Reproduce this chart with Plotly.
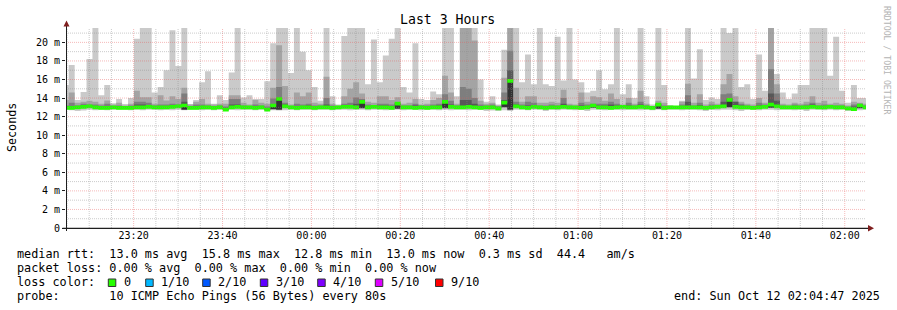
import plotly.graph_objects as go
from datetime import datetime, timedelta

# ---------------- data ----------------
TITLE = "Last 3 Hours"
Y_LABEL = "Seconds"
WATERMARK = "RRDTOOL / TOBI OETIKER"
END_TIME = datetime(2025, 10, 12, 2, 4, 47)
RANGE_START = END_TIME - timedelta(hours=3)
FIRST_STEP = datetime(2025, 10, 11, 23, 4, 4)
STEP_S = 80

Y_TICKS = [0, 2, 4, 6, 8, 10, 12, 14, 16, 18, 20]
Y_TICK_TEXT = ["0", "2 m", "4 m", "6 m", "8 m", "10 m", "12 m", "14 m", "16 m", "18 m", "20 m"]

# ping 10 of 10 (max rtt, ms)
P10 = [15.4, 17.55, 13.8, 14.65, 18.2, 22.0, 14.3, 15.4, 13.45, 13.9,
       13.35, 14.0, 20.4, 22.0, 22.0, 14.6, 15.2, 17.0, 21.3, 17.45,
       22.0, 13.35, 13.8, 15.7, 16.9, 13.4, 14.3, 13.8, 16.75, 22.0,
       14.05, 14.3, 13.9, 13.9, 15.8, 19.9, 22.0, 22.0, 16.7, 22.0,
       19.0, 17.0, 15.2, 13.7, 22.0, 14.2, 13.3, 20.7, 22.0, 22.0,
       22.0, 15.5, 20.3, 15.7, 18.6, 20.4, 22.0, 15.2, 14.6, 19.9,
       13.9, 13.8, 14.7, 14.4, 22.0, 22.0, 14.2, 22.0, 22.0, 22.0,
       16.0, 13.6, 14.2, 13.3, 19.2, 22.0, 22.0, 15.7, 18.7, 15.5,
       22.0, 15.5, 15.3, 20.6, 15.9, 22.0, 16.0, 15.7, 14.6, 14.8,
       17.0, 14.95, 15.5, 22.0, 14.4, 15.5, 14.0, 22.0, 14.2, 13.3,
       22.0, 15.4, 13.25, 13.1, 13.7, 22.0, 16.1, 19.25, 13.8, 14.05,
       13.9, 22.0, 21.0, 22.0, 15.2, 15.5, 13.9, 18.7, 14.8, 22.0,
       16.6, 14.6, 13.9, 14.5, 15.4, 15.4, 22.0, 22.0, 22.0, 16.4,
       20.6, 14.8, 13.5, 15.4, 14.0, 14.0]

P9 = [13.8, 14.6, 13.5, 13.6, 13.7, 13.6, 13.4, 13.75, 13.3, 13.5,
      13.2, 13.4, 14.8, 14.1, 14.1, 13.4, 14.3, 13.75, 14.2, 13.9,
      15.1, 13.3, 13.6, 13.9, 13.4, 13.3, 13.4, 13.4, 14.3, 14.3,
      13.5, 13.3, 13.8, 13.5, 13.4, 15.1, 19.7, 15.3, 13.3, 14.6,
      14.2, 14.6, 13.5, 13.4, 16.3, 13.4, 13.2, 14.2, 15.0, 15.7,
      14.5, 13.6, 13.5, 14.2, 14.2, 13.8, 14.1, 13.4, 13.5, 13.9,
      13.3, 13.4, 13.8, 14.0, 16.4, 14.6, 13.4, 22.0, 22.0, 20.2,
      13.7, 13.4, 13.5, 13.2, 16.2, 22.0, 15.1, 13.6, 14.2, 14.2,
      13.5, 13.5, 13.6, 13.5, 14.9, 13.4, 13.3, 14.6, 13.6, 14.2,
      14.1, 13.7, 14.5, 13.9, 13.3, 14.0, 13.4, 14.8, 13.4, 13.1,
      13.7, 13.5, 13.1, 13.1, 13.6, 15.55, 13.5, 14.4, 13.3, 13.6,
      13.4, 15.5, 16.6, 14.2, 13.6, 13.4, 13.3, 14.0, 13.5, 22.0,
      15.5, 13.4, 13.3, 13.5, 13.4, 13.6, 14.2, 13.5, 13.7, 13.4,
      13.5, 13.4, 13.2, 13.6, 13.5, 13.4]

P8 = [13.2, 13.5, 13.2, 13.4, 13.3, 13.3, 13.2, 13.4, 13.1, 13.2,
      13.1, 13.2, 13.6, 13.6, 13.5, 13.2, 13.3, 13.3, 13.4, 13.3,
      14.5, 13.1, 13.3, 13.3, 13.2, 13.1, 13.2, 13.1, 13.9, 13.9,
      13.2, 13.1, 13.3, 13.2, 13.1, 13.95, 15.2, 13.5, 13.1, 13.4,
      13.3, 13.4, 13.2, 13.2, 14.0, 13.2, 13.1, 13.4, 13.5, 14.05,
      13.9, 13.3, 13.2, 13.4, 13.4, 13.3, 13.5, 13.2, 13.2, 13.4,
      13.2, 13.2, 13.3, 13.4, 14.4, 13.7, 13.2, 15.2, 15.0, 14.0,
      13.3, 13.2, 13.3, 13.1, 14.6, 19.1, 13.6, 13.3, 13.6, 13.5,
      13.2, 13.2, 13.3, 13.2, 14.0, 13.2, 13.1, 13.5, 13.3, 13.4,
      13.4, 13.4, 13.6, 13.4, 13.1, 13.5, 13.2, 13.6, 13.2, 13.05,
      13.4, 13.2, 13.05, 13.05, 13.3, 14.3, 13.2, 13.5, 13.1, 13.3,
      13.2, 14.4, 14.5, 13.6, 13.4, 13.2, 13.1, 13.5, 13.3, 17.1,
      14.5, 13.2, 13.15, 13.3, 13.2, 13.3, 13.5, 13.2, 13.3, 13.2,
      13.2, 13.2, 13.05, 13.3, 13.4, 13.2]

P7 = [13.05, 13.15, 13.1, 13.2, 13.2, 13.1, 13.05, 13.15, 13.05, 13.05,
      13.0, 13.05, 13.3, 13.3, 13.25, 13.1, 13.15, 13.15, 13.2, 13.2,
      13.6, 13.0, 13.1, 13.1, 13.1, 13.0, 13.1, 12.95, 13.3, 13.3,
      13.1, 13.05, 13.1, 13.1, 12.9, 13.3, 14.0, 13.3, 13.05, 13.15,
      13.15, 13.2, 13.1, 13.05, 13.3, 13.1, 13.05, 13.2, 13.2, 13.4,
      13.7, 13.15, 13.15, 13.2, 13.2, 13.1, 13.45, 13.1, 13.1, 13.2,
      13.1, 13.05, 13.15, 13.2, 13.8, 13.3, 13.1, 13.8, 13.8, 13.4,
      13.15, 13.1, 13.15, 13.0, 13.8, 17.0, 13.3, 13.15, 13.2, 13.2,
      13.1, 13.05, 13.15, 13.1, 13.4, 13.1, 13.05, 13.2, 13.15, 13.25,
      13.2, 13.2, 13.3, 13.2, 13.1, 13.2, 13.1, 13.3, 13.1, 13.0,
      13.35, 13.05, 13.05, 13.05, 13.15, 13.6, 13.1, 13.25, 13.05, 13.15,
      13.15, 13.6, 14.0, 13.6, 13.2, 13.1, 13.05, 13.2, 13.2, 14.5,
      13.7, 13.1, 13.1, 13.15, 13.1, 13.15, 13.3, 13.1, 13.15, 13.15,
      13.1, 13.1, 13.0, 13.1, 13.3, 13.1]

MEDIAN = [12.95, 12.95, 13.0, 13.05, 13.1, 13.0, 12.95, 12.95, 13.0, 12.95,
          12.95, 12.95, 13.0, 13.0, 13.05, 13.0, 13.0, 13.0, 13.05, 13.1,
          13.2, 12.95, 12.95, 13.0, 13.0, 12.95, 13.0, 12.75, 13.0, 13.05,
          13.0, 13.0, 12.95, 13.0, 12.75, 13.2, 13.9, 13.1, 13.0, 12.95,
          13.0, 13.0, 12.95, 13.0, 13.0, 12.95, 13.0, 13.05, 13.05, 13.0,
          13.6, 13.0, 13.05, 13.0, 13.0, 12.95, 13.4, 13.0, 13.0, 12.95,
          13.0, 12.95, 13.0, 13.0, 13.6, 13.05, 13.0, 13.0, 13.05, 13.0,
          12.95, 13.0, 13.0, 12.9, 13.5, 15.85, 13.1, 13.0, 12.95, 13.05,
          13.0, 12.95, 13.0, 13.0, 13.05, 13.0, 13.0, 12.95, 13.0, 13.2,
          13.0, 13.0, 12.95, 13.0, 13.05, 13.0, 13.0, 13.05, 13.0, 12.95,
          13.3, 12.95, 13.0, 13.0, 13.0, 13.0, 13.0, 13.0, 12.95, 13.0,
          13.05, 13.1, 13.8, 13.05, 13.0, 13.0, 12.95, 13.0, 13.05, 13.3,
          13.1, 13.0, 13.0, 13.0, 13.0, 13.0, 13.05, 13.0, 13.0, 13.05,
          13.0, 13.0, 12.9, 12.8, 13.2, 13.0]

P1 = [12.75, 12.7, 12.6, 12.65, 12.75, 12.7, 12.75, 12.7, 12.75, 12.75,
      12.75, 12.7, 12.75, 12.7, 12.75, 12.75, 12.7, 12.75, 12.7, 12.75,
      12.7, 12.75, 12.75, 12.7, 12.75, 12.7, 12.75, 12.6, 12.75, 12.7,
      12.75, 12.75, 12.7, 12.75, 12.6, 12.7, 12.65, 12.7, 12.75, 12.7,
      12.75, 12.75, 12.7, 12.75, 12.75, 12.7, 12.75, 12.75, 12.7, 12.75,
      12.75, 12.7, 12.75, 12.75, 12.7, 12.75, 12.75, 12.7, 12.75, 12.75,
      12.7, 12.75, 12.75, 12.7, 12.75, 12.7, 12.75, 12.75, 12.7, 12.75,
      12.75, 12.6, 12.65, 12.6, 12.7, 12.6, 12.75, 12.75, 12.7, 12.75,
      12.75, 12.6, 12.75, 12.7, 12.75, 12.75, 12.7, 12.75, 12.6, 12.75,
      12.75, 12.7, 12.75, 12.75, 12.7, 12.75, 12.75, 12.7, 12.75, 12.7,
      12.75, 12.7, 12.75, 12.75, 12.7, 12.75, 12.75, 12.7, 12.6, 12.75,
      12.7, 12.75, 12.75, 12.7, 12.6, 12.75, 12.75, 12.7, 12.75, 12.75,
      12.7, 12.75, 12.75, 12.7, 12.75, 12.6, 12.75, 12.75, 12.7, 12.75,
      12.7, 12.75, 12.6, 12.6, 12.7, 12.75]

# columns where the innermost (ping 5..6) smoke band is visible: index -> (p5, p6)
INNER_BAND = {20: (12.75, 13.2), 35: (12.8, 13.2), 36: (12.75, 14.0), 50: (12.9, 13.6),
              56: (12.85, 13.4), 64: (12.9, 13.6), 74: (13.0, 13.5), 75: (12.75, 15.85),
              89: (12.95, 13.2), 100: (12.85, 13.3), 112: (13.0, 13.8), 119: (12.95, 13.3),
              134: (12.9, 13.2)}

LEGEND_LINE1 = "median rtt:  13.0 ms avg  15.8 ms max  12.8 ms min  13.0 ms now  0.3 ms sd  44.4   am/s"
LEGEND_LINE2 = "packet loss: 0.00 % avg  0.00 % max  0.00 % min  0.00 % now"
LOSS_LABEL = "loss color:"
LOSS_NAMES = ["0", "1/10", "2/10", "3/10", "4/10", "5/10", "9/10"]
LOSS_COLORS = ["#26ff00", "#00b8ff", "#0059ff", "#5e00ff", "#7e00ff", "#dd00ff", "#ff0000"]
PROBE_LINE = "probe:       10 ICMP Echo Pings (56 Bytes) every 80s"
END_LINE = "end: Sun Oct 12 02:04:47 2025"

# ---------------- styling ----------------
W, H = 897, 310
PL, PR, PT, PB = 66, 866, 28, 228
Y_MAX = 21.55
MONO = "DejaVu Sans Mono"
SMOKE = ["#cacaca", "#a4a4a4", "#7e7e7e", "#585858", "#323232"]
MEDIAN_HALF = 0.2
GRID_MINOR = "rgba(140,140,140,0.45)"
GRID_MAJOR = "rgba(230,90,90,0.42)"
ARROW = "#801f1f"
AXIS = "#1f1f1f"


def pxx(x):
    return (x - PL) / (PR - PL)


def pxy(y):
    return (PB - y) / (PB - PT)


n = len(P10)
times = [FIRST_STEP + timedelta(seconds=STEP_S * i) for i in range(n + 1)]
tx = [t.strftime("%Y-%m-%d %H:%M:%S") for t in times]


def step(vals):
    return list(vals) + [vals[-1]]


p5 = [INNER_BAND[i][0] if i in INNER_BAND else MEDIAN[i] for i in range(n)]
p6 = [INNER_BAND[i][1] if i in INNER_BAND else MEDIAN[i] for i in range(n)]
med_lo = [m - MEDIAN_HALF for m in MEDIAN]
med_hi = [m + MEDIAN_HALF for m in MEDIAN]

fig = go.Figure()


def band(lower, upper, color):
    fig.add_trace(go.Scatter(x=tx, y=step(lower), mode="lines", line=dict(width=0, shape="hv"),
                             hoverinfo="skip", showlegend=False))
    fig.add_trace(go.Scatter(x=tx, y=step(upper), mode="lines", line=dict(width=0, shape="hv"),
                             fill="tonexty", fillcolor=color, hoverinfo="skip", showlegend=False))


band(P1, P10, SMOKE[0])
band(MEDIAN, P9, SMOKE[1])
band(MEDIAN, P8, SMOKE[2])
band(MEDIAN, P7, SMOKE[3])
band(p5, p6, SMOKE[4])
band(med_lo, med_hi, LOSS_COLORS[0])

shapes = []
# vertical grid: every 5 min, major every 20 min
t = datetime(2025, 10, 11, 23, 5, 0)
while t <= END_TIME:
    major = (t.minute % 20 == 0)
    shapes.append(dict(type="line", xref="x", yref="paper", layer="above",
                       x0=t.strftime("%Y-%m-%d %H:%M:%S"), x1=t.strftime("%Y-%m-%d %H:%M:%S"),
                       y0=0, y1=1,
                       line=dict(color=GRID_MAJOR if major else GRID_MINOR, width=1, dash="1px,1px")))
    t += timedelta(minutes=5)
# horizontal grid: every 1 ms, major every 2 ms
for v in range(1, 22):
    major = (v % 2 == 0)
    shapes.append(dict(type="line", xref="paper", yref="y", layer="above",
                       x0=0, x1=1, y0=v, y1=v,
                       line=dict(color=GRID_MAJOR if major else GRID_MINOR, width=1, dash="1px,1px")))
# axes
shapes.append(dict(type="line", xref="paper", yref="paper", layer="above",
                   x0=pxx(62.5), x1=pxx(869), y0=pxy(228.3), y1=pxy(228.3),
                   line=dict(color=AXIS, width=1.3)))
shapes.append(dict(type="line", xref="paper", yref="paper", layer="above",
                   x0=pxx(66.5), x1=pxx(66.5), y0=pxy(231), y1=pxy(24),
                   line=dict(color=AXIS, width=1)))
# arrows
shapes.append(dict(type="path", xref="paper", yref="paper", layer="above",
                   path="M {},{} L {},{} L {},{} Z".format(pxx(63.5), pxy(26.5), pxx(69.5), pxy(26.5),
                                                         pxx(66.5), pxy(20.5)),
                   fillcolor=ARROW, line=dict(width=0)))
shapes.append(dict(type="path", xref="paper", yref="paper", layer="above",
                   path="M {},{} L {},{} L {},{} Z".format(pxx(868), pxy(225), pxx(868), pxy(231.5),
                                                         pxx(874), pxy(228.3)),
                   fillcolor=ARROW, line=dict(width=0)))

annotations = []


def text(x, y, s, size=11.8, color="#000000", xanchor="left", angle=0):
    annotations.append(dict(xref="paper", yref="paper", x=pxx(x), y=pxy(y), text=s.replace(" ", "\u00a0"),
                            showarrow=False, xanchor=xanchor, yanchor="middle", textangle=angle,
                            borderpad=0, font=dict(family=MONO, size=size, color=color)))


text(447.5, 19.5, TITLE, size=13.2, xanchor="center")
text(11.5, 127.5, Y_LABEL, size=11.7, xanchor="center", angle=-90)
text(887, 60, WATERMARK, size=8.2, color="#b4b4b4", xanchor="center", angle=90)
text(16, 254, LEGEND_LINE1)
text(16, 268, LEGEND_LINE2)
text(16, 282, LOSS_LABEL)
text(16, 296, PROBE_LINE)
text(880.5, 296, END_LINE, xanchor="right")

BOX_X = [108.3, 145.7, 202.7, 260.3, 317.7, 375.3, 435.5]
for bx, name, col in zip(BOX_X, LOSS_NAMES, LOSS_COLORS):
    shapes.append(dict(type="rect", xref="paper", yref="paper",
                       x0=pxx(bx), x1=pxx(bx + 7.5), y0=pxy(286.5), y1=pxy(279),
                       fillcolor=col, line=dict(color="#333333", width=1)))
    text(bx + 14.5, 282, name)

fig.update_layout(
    width=W, height=H,
    margin=dict(l=PL, r=W - PR, t=PT, b=H - PB, pad=0),
    paper_bgcolor="#ffffff", plot_bgcolor="#ffffff",
    showlegend=False,
    shapes=shapes, annotations=annotations,
    xaxis=dict(type="date", range=[RANGE_START.strftime("%Y-%m-%d %H:%M:%S"), END_TIME.strftime("%Y-%m-%d %H:%M:%S")],
               tick0="2025-10-11 23:20:00", dtick=20 * 60 * 1000, tickformat="%H:%M",
               showgrid=False, zeroline=False, showline=False, ticks="",
               tickfont=dict(family=MONO, size=10, color="#000000"), fixedrange=True),
    yaxis=dict(range=[0, Y_MAX], tickvals=Y_TICKS, ticktext=Y_TICK_TEXT,
               showgrid=False, zeroline=False, showline=False,
               ticks="outside", ticklen=3, tickcolor=AXIS, tickwidth=1,
               tickfont=dict(family=MONO, size=10, color="#000000"), fixedrange=True),
)

fig.write_html("out.html")
